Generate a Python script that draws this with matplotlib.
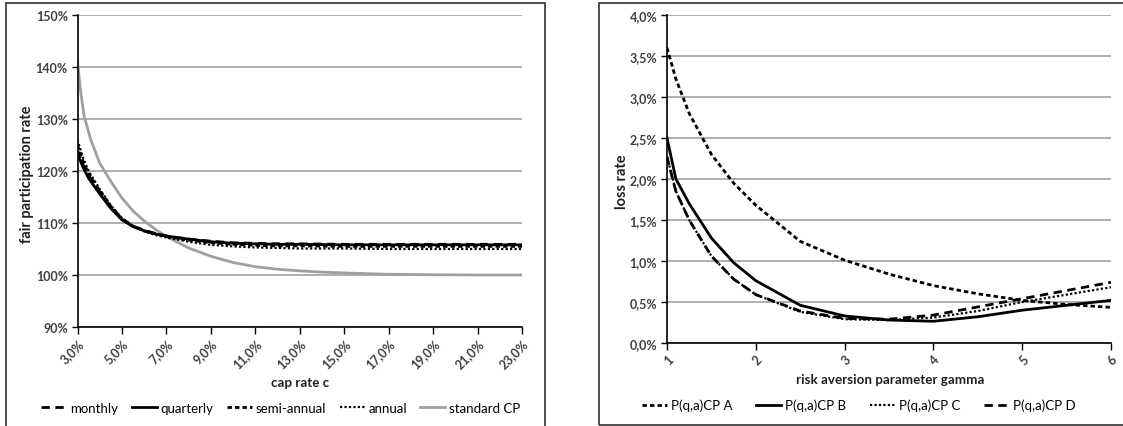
import numpy as np
import matplotlib.pyplot as plt
from matplotlib.patches import Rectangle
from matplotlib.ticker import FuncFormatter

plt.rcParams['font.family'] = ['Lato', 'DejaVu Sans']

# left panel: fair participation rate vs cap rate (in %)
cap_rate = [3, 3.25, 3.5, 4, 4.5, 5, 5.5, 6, 6.5, 7, 8, 9, 10, 11, 12, 13, 15, 17, 19, 21, 23]
monthly = [124.0, 121.2, 119.1, 116.0, 113.1, 110.8, 109.4, 108.6, 108.0, 107.5, 106.9, 106.5,
           106.2, 106.1, 106.0, 106.0, 105.9, 105.9, 105.9, 105.9, 105.9]
quarterly = [123.3, 120.7, 118.6, 115.6, 112.8, 110.6, 109.3, 108.5, 107.9, 107.5, 106.9, 106.4,
             106.1, 106.0, 105.9, 105.9, 105.8, 105.8, 105.8, 105.8, 105.8]
semi_annual = [125.0, 121.8, 119.5, 116.2, 113.2, 110.8, 109.4, 108.5, 107.9, 107.4, 106.7, 106.2,
               105.9, 105.7, 105.6, 105.6, 105.5, 105.5, 105.5, 105.5, 105.5]
annual = [126.0, 122.5, 120.0, 116.5, 113.4, 110.9, 109.4, 108.4, 107.7, 107.2, 106.4, 105.8,
          105.5, 105.3, 105.2, 105.1, 105.1, 105.0, 105.0, 105.0, 105.0]
cap_rate_std = [3, 3.15, 3.3, 3.6, 4, 4.5, 5, 5.5, 6, 6.5, 7, 8, 9, 10, 11, 12, 13, 14, 15, 16, 17, 19, 21, 23]
standard_cp = [141.0, 135.0, 130.5, 126.0, 121.5, 118.0, 114.8, 112.3, 110.4, 108.8, 107.4, 105.2,
               103.6, 102.4, 101.6, 101.1, 100.8, 100.55, 100.4, 100.25, 100.15, 100.05, 100.0, 100.0]
cap_ticks = [3, 5, 7, 9, 11, 13, 15, 17, 19, 21, 23]

# right panel: loss rate (in %) vs risk aversion gamma
gamma = [1, 1.1, 1.25, 1.5, 1.75, 2, 2.5, 3, 3.5, 4, 4.5, 5, 5.5, 6]
loss_a = [3.6, 3.22, 2.8, 2.3, 1.95, 1.68, 1.24, 1.01, 0.84, 0.70, 0.60, 0.52, 0.47, 0.435]
loss_b = [2.5, 2.0, 1.7, 1.28, 0.98, 0.76, 0.46, 0.33, 0.28, 0.265, 0.32, 0.40, 0.46, 0.52]
loss_c = [2.27, 1.85, 1.5, 1.06, 0.78, 0.59, 0.38, 0.29, 0.28, 0.31, 0.39, 0.50, 0.59, 0.68]
loss_d = [2.27, 1.85, 1.5, 1.06, 0.78, 0.59, 0.39, 0.30, 0.29, 0.34, 0.44, 0.54, 0.64, 0.74]

W, H = 1123, 427
fig = plt.figure(figsize=(W / 100, H / 100), dpi=100)

def px_box(x0, y0, x1, y1):
    # pixel box (top-left origin) -> figure fraction rect
    return [x0 / W, 1 - y1 / H, (x1 - x0) / W, (y1 - y0) / H]

# chart frames
for x0, y0, x1, y1 in [(6, 4, 545, 440), (599, 4, 1140, 426)]:
    r = px_box(x0, y0, x1, y1)
    fig.add_artist(Rectangle((r[0], r[1]), r[2], r[3], transform=fig.transFigure,
                             fill=False, edgecolor='#303030', linewidth=1.2))

ax1 = fig.add_axes(px_box(77.5, 16, 522, 328))
ax2 = fig.add_axes(px_box(667, 16, 1111, 344))

tick_kw = dict(fontsize=9, fontweight='bold', color='#404040')
grid_col = '#a8a8a8'
label_kw = dict(ha='center', va='center', fontweight='bold', color='#202020')
leg_kw = dict(loc='center', frameon=False, fontsize=9.5, handlelength=1.9, handletextpad=0.3,
              borderaxespad=0)

long_dash = (0, (3, 2))
short_dash = (0, (1.6, 1.1))
dotted = (0, (1, 1))

def style(ax):
    for s in ['top', 'right']:
        ax.spines[s].set_visible(False)
    for s in ['left', 'bottom']:
        ax.spines[s].set_color('#000000')
        ax.spines[s].set_linewidth(1.2)
    ax.yaxis.grid(True, color=grid_col, linewidth=1.3)
    ax.set_axisbelow(True)
    ax.tick_params(axis='x', direction='out', length=5, width=1, color='#000000', pad=2)
    ax.tick_params(axis='y', direction='out', length=4, width=1, color='#000000', pad=3)
    for lab in ax.get_yticklabels():
        lab.set(**tick_kw)
    for lab in ax.get_xticklabels():
        lab.set(rotation=45, ha='right', va='top', rotation_mode='anchor', **tick_kw)

# ---- left chart
ax1.plot(cap_rate_std, standard_cp, color='#a0a0a0', lw=2, label='standard CP', zorder=2)
ax1.plot(cap_rate, annual, color='black', lw=1.6, linestyle=dotted, label='annual', zorder=3)
ax1.plot(cap_rate, semi_annual, color='black', lw=2, linestyle=short_dash, label='semi-annual', zorder=3)
ax1.plot(cap_rate, quarterly, color='black', lw=2, label='quarterly', zorder=3)
ax1.plot(cap_rate, monthly, color='black', lw=2, linestyle=long_dash, label='monthly', zorder=3)
ax1.set_xlim(3, 23)
ax1.set_ylim(90, 150)
ax1.set_yticks(np.arange(90, 151, 10))
ax1.set_xticks(cap_ticks)
ax1.yaxis.set_major_formatter(FuncFormatter(lambda v, p: f'{v:.0f}%'))
ax1.xaxis.set_major_formatter(FuncFormatter(lambda v, p: f'{v:.1f}%'.replace('.', ',')))
style(ax1)

fig.text(300 / W, 1 - 383 / H, 'cap rate c', fontsize=9.6, **label_kw)
fig.text(27 / W, 1 - 174 / H, 'fair participation rate', rotation=90, fontsize=10.5, **label_kw)

h = {l.get_label(): l for l in ax1.get_lines()}
order1 = ['monthly', 'quarterly', 'semi-annual', 'annual', 'standard CP']
fig.legend([h[k] for k in order1], order1, bbox_to_anchor=(281 / W, 1 - 409 / H),
           ncol=5, columnspacing=1.0, **leg_kw)

# ---- right chart
ax2.plot(gamma, loss_a, color='black', lw=2, linestyle=short_dash, label='P(q,a)CP A')
ax2.plot(gamma, loss_b, color='black', lw=2, label='P(q,a)CP B')
ax2.plot(gamma, loss_c, color='black', lw=1.6, linestyle=dotted, label='P(q,a)CP C')
ax2.plot(gamma, loss_d, color='black', lw=2, linestyle=long_dash, label='P(q,a)CP D')
ax2.set_xlim(1, 6)
ax2.set_ylim(0, 4)
ax2.set_yticks(np.arange(0, 4.01, 0.5))
ax2.set_xticks([1, 2, 3, 4, 5, 6])
ax2.yaxis.set_major_formatter(FuncFormatter(lambda v, p: f'{v:.1f}%'.replace('.', ',')))
style(ax2)

fig.text(890 / W, 1 - 380 / H, 'risk aversion parameter gamma', fontsize=9.6, **label_kw)
fig.text(622 / W, 1 - 182 / H, 'loss rate', rotation=90, fontsize=10.5, **label_kw)

fig.legend(ax2.get_lines(), [l.get_label() for l in ax2.get_lines()],
           bbox_to_anchor=(859 / W, 1 - 406 / H), ncol=4, columnspacing=1.8, **leg_kw)

fig.savefig('out.png', dpi=100)
